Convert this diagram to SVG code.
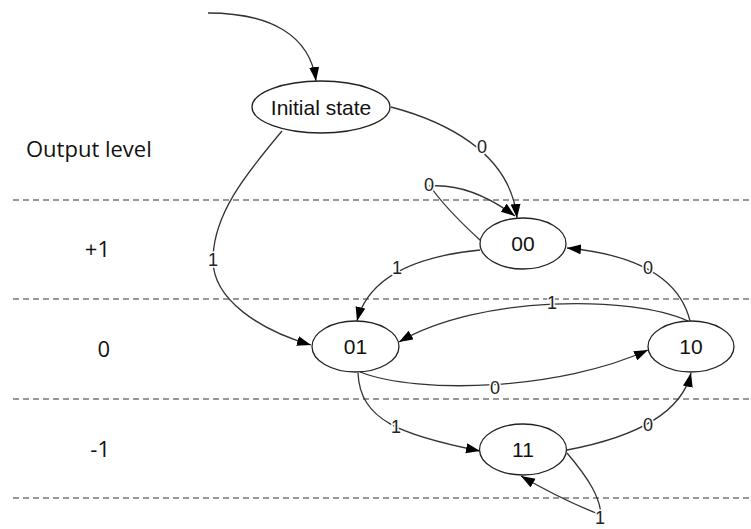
<svg xmlns="http://www.w3.org/2000/svg" width="751" height="529" viewBox="0 0 751 529">
<style>
.bg{fill:#fff}
.dash{stroke:#333;stroke-width:1.2;stroke-dasharray:6,4;fill:none}
.node{fill:#fff;stroke:#222;stroke-width:1.3}
.nt{font-family:"Liberation Sans",Arial,sans-serif;font-size:21px;fill:#111;text-anchor:middle;dominant-baseline:central}
.lvl{font-family:"Open Sans","Liberation Sans",sans-serif;font-size:22px;fill:#111}
.edge{fill:none;stroke:#333;stroke-width:1.3}
.arr{marker-end:url(#ah)}
.lb{font-family:"Liberation Sans",Arial,sans-serif;font-size:18px;fill:#222;text-anchor:middle;dominant-baseline:central;stroke:#fff;stroke-width:3;paint-order:stroke}
</style>
<defs>
<marker id="ah" markerUnits="userSpaceOnUse" markerWidth="15" markerHeight="11" refX="14" refY="5" orient="auto">
<path d="M0,0 L14,5 L0,10 z" fill="#000"/>
</marker>
</defs>
<rect class="bg" width="751" height="529"/>
<g id="levels">
<line class="dash" x1="13" y1="200" x2="751" y2="200"/>
<line class="dash" x1="13" y1="299" x2="751" y2="299"/>
<line class="dash" x1="13" y1="399" x2="751" y2="399"/>
<line class="dash" x1="13" y1="498" x2="751" y2="498"/>
<text class="lvl" x="26" y="157">Output level</text>
<text class="lvl" x="110" y="257" text-anchor="end">+1</text>
<text class="lvl" x="110" y="357" text-anchor="end">0</text>
<text class="lvl" x="110" y="457" text-anchor="end">-1</text>
</g>
<g id="connectors">
<path class="edge arr" d="M208,13 C270,13 310,35 316,81"/>
<path class="edge arr" d="M391,107 C440,120 510,150 517,218"/>
<path class="edge arr" d="M282,131 C245,175 213,215 213,260 C213,300 260,330 311,345"/>
<path class="edge arr" d="M481,241 Q445,208 430,186 Q470,183 515,216"/>
<path class="edge arr" d="M480,250 C430,255 370,270 357,321"/>
<path class="edge arr" d="M690,321 C680,280 640,255 567,248"/>
<path class="edge arr" d="M688,321 C630,295 480,295 399,342"/>
<path class="edge arr" d="M360,372 C420,395 560,390 648,350"/>
<path class="edge arr" d="M358,373 C360,420 400,435 480,451"/>
<path class="edge arr" d="M567,450 C620,440 680,420 691,373"/>
<path class="edge arr" d="M567,453 C590,480 600,498 601,515 C570,503 545,490 521,476"/>
<text class="lb" x="482" y="147">0</text>
<text class="lb" x="213" y="260">1</text>
<text class="lb" x="429" y="185">0</text>
<text class="lb" x="397" y="268">1</text>
<text class="lb" x="648" y="268">0</text>
<text class="lb" x="552" y="303">1</text>
<text class="lb" x="495" y="388">0</text>
<text class="lb" x="396" y="427">1</text>
<text class="lb" x="648" y="425">0</text>
<text class="lb" x="600" y="518">1</text>
</g>
<g id="initial"><ellipse class="node" cx="321" cy="107" rx="69" ry="26"/><text class="nt" x="321" y="107">Initial state</text></g>
<g id="s00"><ellipse class="node" cx="523" cy="243.5" rx="43" ry="25.5"/><text class="nt" x="523" y="243.5">00</text></g>
<g id="s01"><ellipse class="node" cx="355.5" cy="346.5" rx="43.5" ry="25.5"/><text class="nt" x="355.5" y="346.5">01</text></g>
<g id="s10"><ellipse class="node" cx="691" cy="346.5" rx="43" ry="25.5"/><text class="nt" x="691" y="346.5">10</text></g>
<g id="s11"><ellipse class="node" cx="523" cy="449.5" rx="43.5" ry="25.5"/><text class="nt" x="523" y="449.5">11</text></g>
</svg>
